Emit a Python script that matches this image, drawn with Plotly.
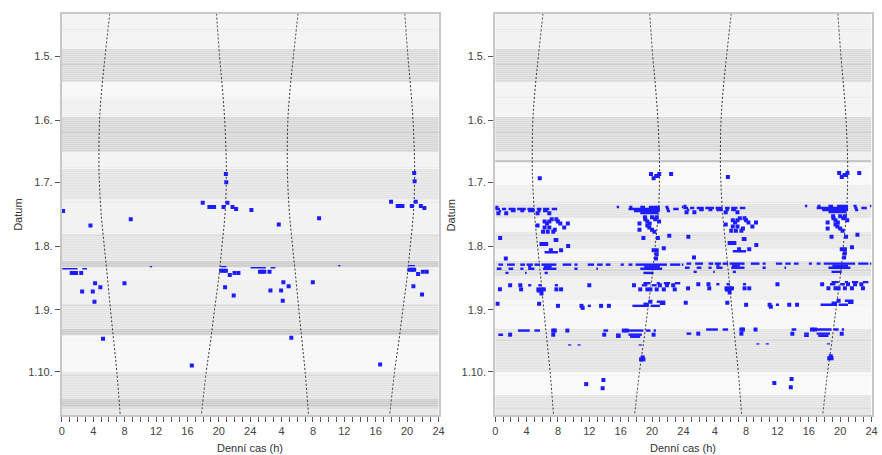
import plotly.graph_objects as go

# ---------------- axes ----------------
# y values are days counted from 1 May (0 = "1.5.")
MONTH_TICKS = [0, 31, 61, 92, 123, 153]
MONTH_LABELS = ["1.5.", "1.6.", "1.7.", "1.8.", "1.9.", "1.10."]
HOUR_TICKS = [0, 4, 8, 12, 16, 20, 24, 28, 32, 36, 40, 44, 48]
HOUR_LABELS = ["0", "4", "8", "12", "16", "20", "24", "4", "8", "12", "16", "20", "24"]

# ---------------- sunrise / sunset (hours) ----------------
SUN_DAYS = [-21, 0, 15, 31, 51, 61, 76, 92, 107, 123, 138, 153, 175]
SUNRISE = [6.1, 5.5, 5.1, 4.8, 4.72, 4.78, 5.0, 5.4, 5.8, 6.2, 6.6, 7.0, 7.45]
SUNSET = [19.7, 20.1, 20.45, 20.75, 20.95, 20.95, 20.8, 20.4, 20.0, 19.45, 18.95, 18.4, 17.75]

# ---------------- background row shading (first day, last day, level) ----------------
SHADE1_START = [-21, -3, 13, 21, 30, 47, 55, 70, 87, 100, 103, 109, 121, 133, 136, 154, 167, 171]
SHADE1_END = [-4, 12, 20, 29, 46, 54, 69, 86, 99, 102, 108, 120, 132, 135, 153, 166, 170, 175]
SHADE1_LEVEL = [0.2, 0.55, 0.08, 0.3, 0.6, 0.2, 0.45, 0.25, 0.45, 0.75, 0.2, 0.3, 0.45, 0.75, 0.08, 0.45, 0.75, 0.4]

SHADE2_START = [-21, -3, 13, 30, 47, 51, 52, 63, 72, 79, 86, 94, 100, 107, 119, 133, 154, 165]
SHADE2_END = [-4, 12, 29, 46, 50, 51, 62, 71, 78, 85, 93, 99, 106, 118, 132, 153, 164, 175]
SHADE2_LEVEL = [0.25, 0.55, 0.2, 0.55, 0.3, 1.0, 0.05, 0.3, 0.45, 0.15, 0.4, 0.15, 0.5, 0.3, 0.08, 0.45, 0.05, 0.45]

# ---------------- panel 1 activity ----------------
P1_EVENT_DAY = [75, 82, 79, 71, 73, 73, 73, 73, 57, 61, 71, 73, 74,
                105, 105, 105, 105, 114, 114, 110, 112, 119, 137, 110, 150,
                112, 106, 116, 105, 105, 104, 104, 104]
P1_EVENT_HOUR = [0.15, 3.64, 8.78, 17.95, 18.8, 19.1, 19.4, 20.6, 20.9, 20.95, 21.1, 21.75, 22.2,
                 1.25, 1.55, 1.8, 2.46, 2.58, 3.94, 4.23, 4.9, 4.15, 5.24, 7.98, 16.56,
                 20.8, 21.4, 21.9, 22.0, 22.5, 20.3, 20.6, 20.9]
P1_THIN_DAY = [103, 103, 102, 102]
P1_THIN_START = [0.05, 2.6, 11.2, 20.2]
P1_THIN_END = [2.0, 3.2, 11.5, 21.0]

# ---------------- panel 2 activity ----------------
P2_EVENT_DAY = [59, 57, 59, 58, 57, 58, 57,
                82, 80, 81, 80, 79, 79, 80, 81, 81, 83, 83, 85, 85, 85, 84, 83, 89,
                81, 79, 80, 81, 79, 80, 82, 83, 84, 85, 84, 88, 88, 87,
                88, 91, 91, 91, 89, 92, 94, 94, 98, 94, 94, 96, 98, 93,
                76, 76, 76, 76, 78, 78, 78,
                111, 111, 111, 111, 111, 111, 111,
                113, 113, 113, 113, 113, 113, 113, 113, 113, 113, 113, 113, 113,
                115, 119, 120, 120, 121, 121, 121, 121, 122,
                133, 133, 133, 133, 133, 135, 135, 135, 135,
                147, 147, 146, 159, 157, 161]
P2_EVENT_HOUR = [5.68, 19.87, 20.2, 20.54, 20.92, 20.75, 22.43,
                 5.4, 6.3, 6.6, 6.9, 7.2, 7.8, 8.0, 8.3, 9.26, 6.3, 6.9, 6.1, 6.7, 7.4, 7.6, 8.8, 7.8,
                 18.4, 19.15, 19.4, 19.7, 20.4, 20.9, 19.4, 19.65, 20.0, 20.3, 18.4, 18.9, 20.75, 22.2,
                 0.63, 5.9, 6.2, 6.5, 7.7, 9.3, 7.1, 8.4, 1.35, 20.2, 20.6, 20.6, 20.5, 21.5,
                 0.4, 1.4, 5.4, 6.9, 19.1, 20.0, 20.6,
                 1.9, 3.2, 12.0, 17.7, 21.0, 21.9, 22.7,
                 0.6, 3.3, 5.5, 5.9, 6.2, 7.8, 8.4, 18.5, 19.4, 19.8, 20.6, 21.5, 22.9,
                 5.9, 19.8, 0.3, 5.6, 8.0, 11.0, 13.5, 14.5, 11.15,
                 7.4, 7.6, 9.2, 16.4, 16.8, 1.9, 7.4, 13.9, 20.2,
                 18.6, 18.9, 18.8, 11.6, 13.8, 13.7]

P2_BOUT_DAY = [73, 73, 73, 73, 73, 73, 73,
               74, 74, 74, 74, 74, 74, 74, 74, 74, 74, 74,
               75, 75, 75, 75, 75, 75, 75, 75,
               76, 95,
               101, 101, 101, 101, 101, 101, 101, 101, 101, 101, 101, 101, 101, 101, 101, 101,
               102, 102, 102,
               103, 103, 103, 103, 103, 103, 103, 103,
               105, 105, 105, 105,
               110, 110, 110, 110,
               111, 111, 111, 111, 111,
               114, 119, 120, 120, 121, 121, 121,
               133, 133, 133, 133, 133, 133,
               135, 135, 135, 136, 136]
P2_BOUT_START = [0.0, 15.5, 17.1, 18.5, 19.6, 21.7, 23.8,
                 0.0, 0.85, 1.7, 2.8, 4.1, 5.3, 6.1, 7.2, 17.0, 21.8, 22.7,
                 0.45, 2.0, 3.2, 4.2, 5.4, 6.1, 17.7, 21.9,
                 18.5, 6.3,
                 0.4, 1.5, 3.2, 4.0, 5.0, 5.9, 8.6, 10.1, 11.8, 13.0, 14.1, 16.0, 17.0, 17.9, 22.3, 23.8,
                 4.2, 6.2, 19.0,
                 0.2, 1.7, 3.2, 4.2, 6.1, 10.1, 12.9, 18.5,
                 1.3, 3.8, 6.3, 18.9,
                 18.9, 20.6, 21.5, 22.9,
                 4.2, 5.5, 7.6, 18.7, 20.0,
                 5.3, 20.6, 18.9, 21.0, 11.8, 17.5, 19.8,
                 2.9, 5.0, 13.8, 17.0, 19.2, 20.2,
                 0.4, 15.4, 17.0, 15.4, 17.2]
P2_BOUT_END = [0.4, 15.8, 17.5, 19.1, 21.0, 22.1, 24.0,
               0.6, 1.4, 2.6, 3.9, 5.0, 5.9, 6.9, 7.9, 21.0, 22.2, 23.4,
               0.75, 2.6, 3.7, 5.0, 5.8, 6.7, 21.0, 22.3,
               20.8, 8.0,
               1.0, 2.5, 3.8, 4.8, 5.7, 7.8, 9.7, 10.5, 12.6, 13.7, 14.7, 16.4, 17.5, 21.9, 23.6, 24.0,
               4.6, 7.2, 21.0,
               0.8, 2.3, 3.6, 5.0, 7.8, 10.5, 13.1, 21.3,
               1.7, 4.0, 6.7, 20.2,
               19.8, 21.0, 22.3, 23.6,
               4.6, 5.9, 8.0, 19.4, 20.6,
               6.1, 21.7, 19.6, 21.7, 12.2, 19.6, 21.0,
               4.4, 5.7, 14.4, 18.9, 19.8, 20.5,
               1.0, 16.0, 18.7, 16.0, 18.5]
P2_THIN_DAY = [140, 140, 140]
P2_THIN_START = [9.3, 10.5, 18.3]
P2_THIN_END = [9.7, 10.9, 18.7]

BLUE = "#1c1cff"
FONT = "Liberation Sans, Arial, sans-serif"
RIGHT_SHIFT_DAY = 0.5   # double-plot: right half drawn for the following day

fig = go.Figure()


def shade_rows(starts, ends, levels):
    days, z = [], []
    for s, e, lv in zip(starts, ends, levels):
        for d in range(s, e + 1):
            days.append(d)
            z.append([lv])
    edges = [d - 0.5 for d in days] + [days[-1] + 0.5]
    return edges, z


def add_panel(xa, ya, shade, events, bouts, thin):
    edges, z = shade_rows(*shade)
    fig.add_trace(go.Heatmap(x=[0, 48], y=edges, z=z, zmin=0, zmax=1, showscale=False,
                             colorscale=[[0, "#ffffff"], [0.3, "#fbfbfb"], [1, "#dcdcdc"]],
                             hoverinfo="skip", xaxis=xa, yaxis=ya))
    fig.add_trace(go.Heatmap(x=[0, 48], y=edges, z=z, zmin=0, zmax=1, showscale=False, ygap=1,
                             colorscale=[[0, "#f7f7f7"], [0.3, "#e6e6e6"], [1, "#a4a4a4"]],
                             hoverinfo="skip", xaxis=xa, yaxis=ya))
    # sunrise / sunset, double plotted
    for series in (SUNRISE, SUNSET):
        for off in (0, 24):
            fig.add_trace(go.Scatter(x=[h + off for h in series], y=SUN_DAYS, mode="lines",
                                     line=dict(color="#333333", width=1, dash="2px,2px", shape="spline"),
                                     hoverinfo="skip", xaxis=xa, yaxis=ya))

    def seg(days, st, en, width):
        xs, ys = [], []
        for off, dd in ((0, 0), (24, RIGHT_SHIFT_DAY)):
            for d, s, e in zip(days, st, en):
                xs += [s + off, e + off, None]
                ys += [d - dd, d - dd, None]
        fig.add_trace(go.Scatter(x=xs, y=ys, mode="lines", line=dict(color=BLUE, width=width),
                                 hoverinfo="skip", xaxis=xa, yaxis=ya))

    if bouts is not None:
        seg(*bouts, 2.4)
    seg(*thin, 1.3)
    ed, eh = events
    xs = list(eh) + [h + 24 for h in eh]
    ys = list(ed) + [d - RIGHT_SHIFT_DAY for d in ed]
    fig.add_trace(go.Scatter(x=xs, y=ys, mode="markers",
                             marker=dict(symbol="square", size=4, color=BLUE, line=dict(width=0)),
                             hoverinfo="skip", xaxis=xa, yaxis=ya))


add_panel("x", "y", (SHADE1_START, SHADE1_END, SHADE1_LEVEL), (P1_EVENT_DAY, P1_EVENT_HOUR), None,
          (P1_THIN_DAY, P1_THIN_START, P1_THIN_END))
add_panel("x2", "y2", (SHADE2_START, SHADE2_END, SHADE2_LEVEL), (P2_EVENT_DAY, P2_EVENT_HOUR),
          (P2_BOUT_DAY, P2_BOUT_START, P2_BOUT_END), (P2_THIN_DAY, P2_THIN_START, P2_THIN_END))

W, H = 882, 455
top, bottom = 14, 415
ydom = [1 - bottom / H, 1 - top / H]

xcommon = dict(range=[0, 48], tickvals=HOUR_TICKS, ticktext=HOUR_LABELS, ticks="outside", ticklen=5,
               tickcolor="#555555", tickwidth=1,
               minor=dict(dtick=1, tick0=0, ticks="outside", ticklen=5, tickcolor="#555555", tickwidth=1),
               showgrid=False, zeroline=False, showline=True, mirror=True, linecolor="#c8c8c8", linewidth=2,
               tickfont=dict(family=FONT, size=11, color="#444444"), fixedrange=True)
ycommon = dict(range=[174.0, -20.7], tickvals=MONTH_TICKS, ticktext=MONTH_LABELS, ticks="outside", ticklen=5,
               tickcolor="#555555", tickwidth=1, showgrid=False, zeroline=False, showline=True, mirror=True,
               linecolor="#c8c8c8", linewidth=2, tickfont=dict(family=FONT, size=11, color="#444444"),
               domain=ydom, fixedrange=True)

fig.update_layout(
    width=W, height=H, margin=dict(l=0, r=0, t=0, b=0), showlegend=False,
    paper_bgcolor="white", plot_bgcolor="white",
    xaxis=dict(domain=[59.5 / W, 440 / W], anchor="y", **xcommon),
    xaxis2=dict(domain=[497.3 / W, 877.5 / W], anchor="y2", **xcommon),
    yaxis=dict(anchor="x", **ycommon),
    yaxis2=dict(anchor="x2", **ycommon),
    annotations=[
        dict(text="Datum", x=15 / W, y=1 - 215 / H, xref="paper", yref="paper", textangle=-90,
             showarrow=False, xanchor="center", yanchor="middle", font=dict(family=FONT, size=11, color="#333333")),
        dict(text="Datum", x=453 / W, y=1 - 215 / H, xref="paper", yref="paper", textangle=-90,
             showarrow=False, xanchor="center", yanchor="middle", font=dict(family=FONT, size=11, color="#333333")),
        dict(text="Denní cas (h)", x=250 / W, y=1 - 448 / H, xref="paper", yref="paper",
             showarrow=False, xanchor="center", yanchor="middle", font=dict(family=FONT, size=11, color="#333333")),
        dict(text="Denní cas (h)", x=687 / W, y=1 - 448 / H, xref="paper", yref="paper",
             showarrow=False, xanchor="center", yanchor="middle", font=dict(family=FONT, size=11, color="#333333")),
    ],
)

fig.write_html("out.html")
